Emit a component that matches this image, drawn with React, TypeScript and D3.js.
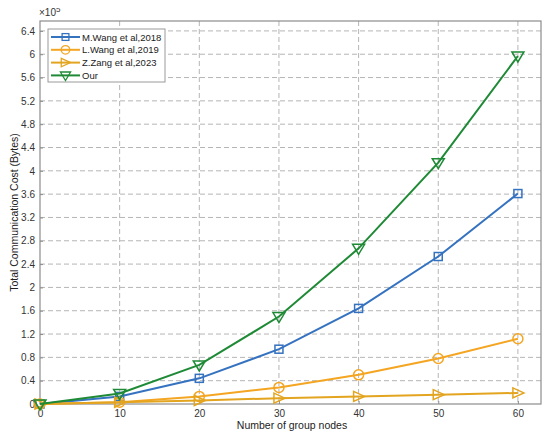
import { useEffect, useRef } from 'react';
import * as d3 from 'd3';

const nodes = [0, 10, 20, 30, 40, 50, 60];
const mWang = [0, 0.13, 0.44, 0.94, 1.64, 2.53, 3.61];
const lWang = [0, 0.03, 0.13, 0.285, 0.5, 0.78, 1.12];
const zZang = [0, 0.03, 0.06, 0.1, 0.13, 0.16, 0.19];
const ours = [0, 0.18, 0.67, 1.5, 2.67, 4.14, 5.97];
const yTicks = d3.range(0, 6.41, 0.4);
const xTicks = [0, 10, 20, 30, 40, 50, 60];

const series = [
  { name: 'M.Wang et al,2018', values: mWang, color: '#3572c0', marker: 'square' },
  { name: 'L.Wang et al,2019', values: lWang, color: '#f4a522', marker: 'circle' },
  { name: 'Z.Zang et al,2023', values: zZang, color: '#e3a41f', marker: 'right' },
  { name: 'Our', values: ours, color: '#1f8a36', marker: 'down' },
];

const font = 'Liberation Sans, Arial, sans-serif';

const App = () => {
  const svgRef = useRef<SVGSVGElement>(null);

  useEffect(() => {
    if (!svgRef.current) return;
    d3.select(svgRef.current).selectAll('*').remove();

    const width = 550;
    const height = 440;
    const margin = { top: 21, right: 9, bottom: 36, left: 40 };
    const w = width - margin.left - margin.right;
    const h = height - margin.top - margin.bottom;

    const svg = d3.select(svgRef.current)
      .attr('width', width)
      .attr('height', height)
      .style('font-family', font);

    svg.append('rect').attr('width', width).attr('height', height).attr('fill', '#fff');

    const g = svg.append('g').attr('transform', `translate(${margin.left},${margin.top})`);

    const x = d3.scaleLinear().domain([0, 62.9]).range([0, w]);
    const y = d3.scaleLinear().domain([0, 6.57]).range([h, 0]);

    // grid
    g.append('g').selectAll('line').data(xTicks.slice(1)).enter().append('line')
      .attr('x1', d => x(d)).attr('x2', d => x(d)).attr('y1', 0).attr('y2', h)
      .attr('stroke', '#b5b5b5').attr('stroke-dasharray', '5,3').attr('stroke-width', 1);
    g.append('g').selectAll('line').data(yTicks.slice(1)).enter().append('line')
      .attr('x1', 0).attr('x2', w).attr('y1', d => y(d)).attr('y2', d => y(d))
      .attr('stroke', '#b5b5b5').attr('stroke-dasharray', '5,3').attr('stroke-width', 1);

    // frame
    g.append('rect').attr('width', w).attr('height', h)
      .attr('fill', 'none').attr('stroke', '#8c8c8c').attr('stroke-width', 1.2);

    // axes (inner ticks)
    const xAxis = g.append('g').attr('transform', `translate(0,${h})`)
      .call(d3.axisBottom(x).tickValues(xTicks).tickSizeInner(-3).tickSizeOuter(0).tickPadding(6).tickFormat(d3.format('d')));
    const yAxis = g.append('g')
      .call(d3.axisLeft(y).tickValues(yTicks).tickSizeInner(-3).tickSizeOuter(0).tickPadding(5)
        .tickFormat(d => d3.format('~g')(+(+d).toFixed(1))));
    [xAxis, yAxis].forEach(a => {
      a.select('.domain').remove();
      a.selectAll('.tick line').attr('stroke', '#8c8c8c');
      a.selectAll('text').attr('fill', '#333').style('font-size', '10px').style('font-family', font);
    });

    svg.append('text').attr('x', margin.left - 1).attr('y', 16)
      .attr('fill', '#333').style('font-size', '10px')
      .text('×10')
      .append('tspan').attr('dy', -4).style('font-size', '8px').text('5');

    svg.append('text').attr('x', 292).attr('y', 429)
      .attr('text-anchor', 'middle').attr('fill', '#222').style('font-size', '10.5px')
      .text('Number of group nodes');
    svg.append('text')
      .attr('transform', `translate(18,${margin.top + h / 2}) rotate(-90)`)
      .attr('text-anchor', 'middle').attr('fill', '#222').style('font-size', '10.5px')
      .text('Total Communication Cost (Bytes)');

    const drawMarker = (sel: d3.Selection<SVGGElement, unknown, null, undefined>, kind: string, color: string) => {
      const s = 5;
      let el;
      if (kind === 'square') {
        el = sel.append('rect').attr('x', -4).attr('y', -4).attr('width', 8).attr('height', 8);
      } else if (kind === 'circle') {
        el = sel.append('circle').attr('r', s);
      } else if (kind === 'right') {
        el = sel.append('path').attr('d', `M${-s},${-s}L${s + 1},0L${-s},${s}Z`);
      } else {
        el = sel.append('path').attr('d', `M${-s - 1},${-s + 1}L${s + 1},${-s + 1}L0,${s + 1}Z`);
      }
      el.attr('fill', 'none').attr('stroke', color).attr('stroke-width', 1.5);
    };

    const line = d3.line<number>().x((_, i) => x(nodes[i])).y(d => y(d));

    series.forEach(s => {
      g.append('path').datum(s.values).attr('d', line)
        .attr('fill', 'none').attr('stroke', s.color).attr('stroke-width', 2);
      s.values.forEach((v, i) => {
        const m = g.append('g').attr('transform', `translate(${x(nodes[i])},${y(v)})`);
        drawMarker(m, s.marker, s.color);
      });
    });

    // legend
    const lg = svg.append('g').attr('transform', 'translate(48,29)');
    lg.append('rect').attr('width', 117).attr('height', 53)
      .attr('fill', '#fff').attr('stroke', '#9a9a9a').attr('stroke-width', 1);
    series.forEach((s, i) => {
      const ly = 8 + i * 12.8;
      lg.append('line').attr('x1', 3).attr('x2', 32).attr('y1', ly).attr('y2', ly)
        .attr('stroke', s.color).attr('stroke-width', 2);
      const m = lg.append('g').attr('transform', `translate(17.5,${ly}) scale(0.85)`);
      drawMarker(m, s.marker, s.color);
      lg.append('text').attr('x', 34).attr('y', ly + 3.5)
        .attr('fill', '#222').style('font-size', '9.5px').text(s.name);
    });
  }, []);

  return <svg ref={svgRef} style={{ display: 'block', margin: '-8px' }} />;
};

export default App;
